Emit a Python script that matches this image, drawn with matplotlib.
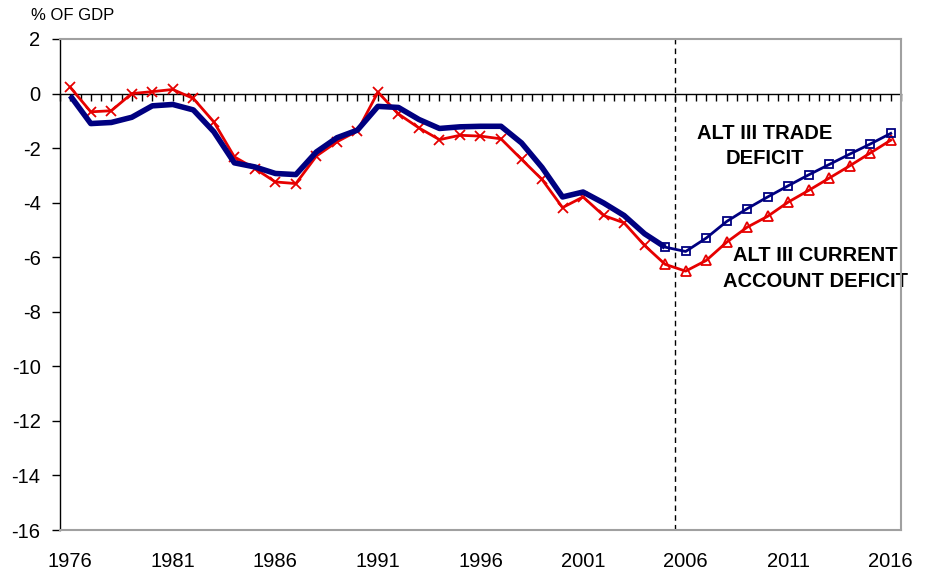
import matplotlib
matplotlib.use("Agg")
import matplotlib.pyplot as plt
from matplotlib.ticker import MultipleLocator, FixedLocator
import numpy as np

plt.rcParams['font.family'] = ['Liberation Sans', 'DejaVu Sans']
plt.rcParams['axes.unicode_minus'] = False

years = list(range(1976, 2017))
trade_deficit = [-0.08, -1.10, -1.06, -0.87, -0.45, -0.40, -0.60, -1.40, -2.54, -2.69,
                 -2.93, -2.97, -2.14, -1.62, -1.34, -0.47, -0.51, -0.95, -1.28, -1.22,
                 -1.20, -1.20, -1.81, -2.71, -3.79, -3.61, -4.01, -4.47, -5.14, -5.63,
                 -5.79, -5.30, -4.69, -4.22, -3.79, -3.38, -2.98, -2.60, -2.22, -1.85,
                 -1.46]
current_account = [0.23, -0.67, -0.63, 0.00, 0.07, 0.15, -0.18, -1.04, -2.32, -2.75,
                   -3.24, -3.30, -2.29, -1.77, -1.37, 0.05, -0.75, -1.26, -1.69, -1.53,
                   -1.56, -1.66, -2.41, -3.15, -4.18, -3.79, -4.47, -4.74, -5.57, -6.26,
                   -6.51, -6.12, -5.45, -4.90, -4.50, -3.98, -3.55, -3.10, -2.65, -2.18,
                   -1.71]
proj_start = 2005
divider_year = 2005.5
xtick_years = [1976, 1981, 1986, 1991, 1996, 2001, 2006, 2011, 2016]
yticks = list(range(-16, 3, 2))

yrs = np.array(years)
td = np.array(trade_deficit)
ca = np.array(current_account)
hist = yrs <= proj_start
proj = yrs >= proj_start

navy = '#000080'
red = '#e60000'
gray = '#a0a0a0'

fig = plt.figure(figsize=(9.38, 5.72), dpi=100)
ax = fig.add_axes([60/938, 42/572, 841/938, 491/572])
ax.set_xlim(1975.5, 2016.5)
ax.set_ylim(-16, 2)

# vertical dashed divider
ax.axvline(divider_year, color='black', lw=1, ls=(0, (4, 3)), zorder=1)

# red current account line
ax.plot(yrs, ca, color=red, lw=2, zorder=3)
ax.plot(yrs[yrs < proj_start], ca[yrs < proj_start], ls='none', marker='x',
        ms=7, mew=1.3, color=red, zorder=4)
ax.plot(yrs[proj], ca[proj], ls='none', marker='^', ms=7.5, mew=1.3,
        mfc='none', mec=red, zorder=4)

# blue trade line
ax.plot(yrs[hist], td[hist], color=navy, lw=4, solid_capstyle='butt',
        solid_joinstyle='round', zorder=5)
ax.plot(yrs[proj], td[proj], color=navy, lw=2, marker='s', ms=6, mew=1.3,
        mfc='none', mec=navy, zorder=6)

# axes styling: left spine black, bottom spine at 0 with half-year ticks
for s in ['top', 'right']:
    ax.spines[s].set_visible(False)
ax.spines['left'].set_color('black')
ax.spines['left'].set_linewidth(1)
ax.spines['bottom'].set_position(('data', 0))
ax.spines['bottom'].set_color('black')
ax.spines['bottom'].set_linewidth(1)
ax.xaxis.set_major_locator(MultipleLocator(0.5))
ax.tick_params(axis='x', which='major', direction='out', length=5, width=1,
               labelbottom=False, color='black')
ax.yaxis.set_major_locator(FixedLocator(yticks))
ax.set_yticklabels([str(v) for v in yticks])
ax.tick_params(axis='y', direction='out', length=6, width=1, pad=8,
               labelsize=14.5, color='black')

# twin axis for bottom year labels and gray plot border
ax2 = ax.twiny()
ax2.set_xlim(ax.get_xlim())
ax2.xaxis.set_ticks_position('bottom')
ax2.xaxis.set_label_position('bottom')
ax2.xaxis.set_major_locator(FixedLocator(xtick_years))
ax2.set_xticklabels([str(y) for y in xtick_years])
ax2.tick_params(axis='x', length=0, pad=16, labelsize=14.5)
for s in ['top', 'right', 'bottom']:
    ax2.spines[s].set_color(gray)
    ax2.spines[s].set_linewidth(1.5)
ax2.spines['left'].set_visible(False)

# title
fig.text(73/938, 1 - 16/572, '% OF GDP', ha='center', va='center', fontsize=12)

# annotations
ax.text(2009.84, -1.92, 'ALT III TRADE\nDEFICIT', ha='center', va='center',
        fontsize=14.5, fontweight='bold', linespacing=1.45, zorder=7)
ax.text(2012.32, -6.40, 'ALT III CURRENT\nACCOUNT DEFICIT', ha='center', va='center',
        fontsize=14.5, fontweight='bold', linespacing=1.45, zorder=7)

fig.savefig('out.png', dpi=100)
